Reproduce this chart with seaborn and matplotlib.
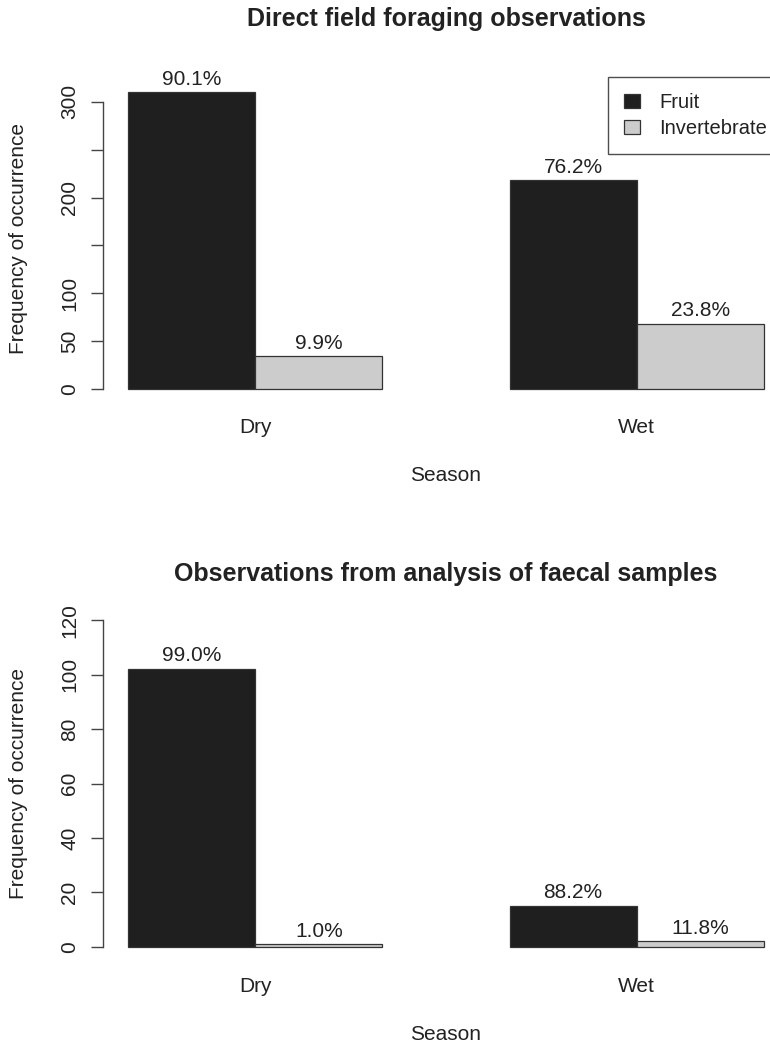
import matplotlib
matplotlib.use("Agg")
import matplotlib.pyplot as plt
import matplotlib.patches as mpatches
import seaborn as sns
import pandas as pd

# ---- data ----
seasons = ["Dry", "Wet"]
food_types = ["Fruit", "Invertebrate"]
field_fruit = [310, 218]
field_invert = [34, 68]
faecal_fruit = [102, 15]
faecal_invert = [1, 2]

top_yticks = [0, 50, 100, 150, 200, 250, 300]
top_yticklabels = ["0", "50", "100", "", "200", "", "300"]
bot_yticks = [0, 20, 40, 60, 80, 100, 120]
bot_yticklabels = ["0", "20", "40", "60", "80", "100", "120"]

titles = ["Direct field foraging observations",
          "Observations from analysis of faecal samples"]
xlabel = "Season"
ylabel = "Frequency of occurrence"

colors = ["#1f1f1f", "#cccccc"]

sns.set_theme(style="white")
plt.rcParams["font.family"] = ["Liberation Sans", "DejaVu Sans"]

W, H = 770, 1047
fig = plt.figure(figsize=(W / 100, H / 100), dpi=100)


def make_df(fruit, invert):
    rows = []
    for s, f, i in zip(seasons, fruit, invert):
        rows.append({"Season": s, "Type": "Fruit", "Count": f})
        rows.append({"Season": s, "Type": "Invertebrate", "Count": i})
    return pd.DataFrame(rows)


def panel(rect, fruit, invert, ylim, yticks, yticklabels, ybound, title, title_pad, legend):
    ax = fig.add_axes(rect)
    df = make_df(fruit, invert)
    sns.barplot(data=df, x="Season", y="Count", hue="Type", order=seasons,
                hue_order=food_types, palette=colors, width=2 / 3, gap=0,
                edgecolor="#333333", linewidth=0.9, legend=False, ax=ax,
                errorbar=None)
    ax.set_xlim(-0.4, 1.4)
    ax.set_ylim(*ylim)
    for s in ["top", "right", "bottom"]:
        ax.spines[s].set_visible(False)
    ax.spines["left"].set_color("#444444")
    ax.spines["left"].set_linewidth(1.0)
    ax.spines["left"].set_bounds(*ybound)
    ax.set_yticks(yticks)
    ax.set_yticklabels(yticklabels, rotation=90, va="center", fontsize=15, color="#222222")
    ax.tick_params(axis="y", left=True, length=9, width=1.0, color="#444444", pad=8)
    ax.set_xticks(range(len(seasons)))
    ax.set_xticklabels(seasons, fontsize=15, color="#222222")
    ax.tick_params(axis="x", bottom=False, length=0, pad=12)
    ax.set_xlabel(xlabel, fontsize=15, color="#222222", labelpad=21)
    ax.set_ylabel(ylabel, fontsize=15, color="#222222", labelpad=23)
    ax.set_title(title, fontsize=18, fontweight="bold", color="#222222", pad=title_pad)

    # percentage labels above bars
    totals = [f + i for f, i in zip(fruit, invert)]
    for bars, vals in zip(ax.containers, [fruit, invert]):
        for rect_, v, t in zip(bars, vals, totals):
            ax.annotate(f"{100 * v / t:.1f}%",
                        (rect_.get_x() + rect_.get_width() / 2, rect_.get_height()),
                        xytext=(0, 5.5), textcoords="offset points",
                        ha="center", va="baseline", fontsize=15, color="#222222")

    if legend:
        handles = [mpatches.Patch(facecolor=c, edgecolor="#333333", linewidth=0.9, label=l)
                   for c, l in zip(colors, food_types)]
        leg = ax.legend(handles=handles, loc="upper left",
                        bbox_to_anchor=((608 - 103) / 686, 1.0),
                        borderaxespad=0, fancybox=False, frameon=True, fontsize=14.5,
                        handlelength=0.8, handleheight=0.65, handletextpad=0.95,
                        labelspacing=0.35, borderpad=0.8)
        leg.get_frame().set_edgecolor("#222222")
        leg.get_frame().set_linewidth(1.0)
        for t in leg.get_texts():
            t.set_color("#222222")
    return ax


left = 103 / W
width = 686 / W
# top panel: plot region y px 77..401
panel([left, (H - 401) / H, width, 324 / H], field_fruit, field_invert,
      (-12.5, 326), top_yticks, top_yticklabels, (0, 300), titles[0], 37, True)
# bottom panel: plot region y px 607..960
panel([left, (H - 960) / H, width, 353 / H], faecal_fruit, faecal_invert,
      (-4.8, 124.8), bot_yticks, bot_yticklabels, (0, 120), titles[1], 19, False)

fig.savefig("out.png", dpi=100)
